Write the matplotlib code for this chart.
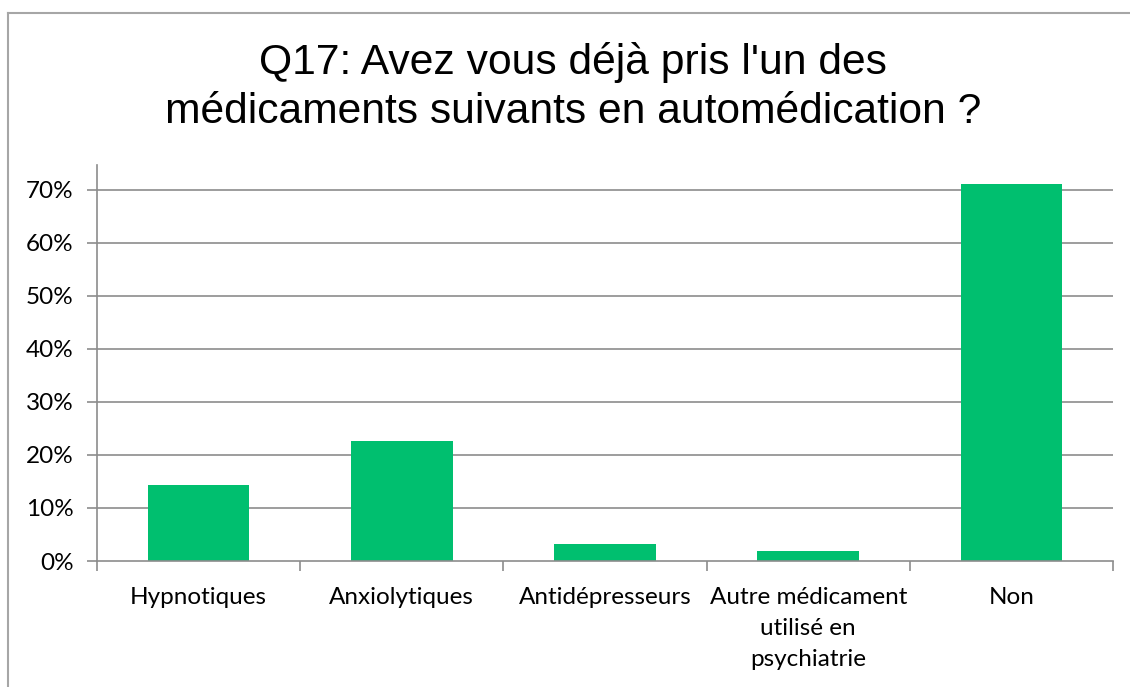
import matplotlib
matplotlib.use("Agg")
import matplotlib.pyplot as plt
from matplotlib.lines import Line2D
from matplotlib.ticker import FuncFormatter

categories = ["Hypnotiques", "Anxiolytiques", "Antidépresseurs",
              "Autre médicament\nutilisé en\npsychiatrie", "Non"]
values = [0.143, 0.226, 0.033, 0.019, 0.711]
yticks = [0.0, 0.1, 0.2, 0.3, 0.4, 0.5, 0.6, 0.7]
title = "Q17: Avez vous déjà pris l'un des\nmédicaments suivants en automédication ?"

W, H = 1130, 687
fig = plt.figure(figsize=(W / 100, H / 100), dpi=100)
fig.patch.set_facecolor("white")

left, right, bottom, top = 97, 1113, 561, 165
ax = fig.add_axes([left / W, 1 - bottom / H, (right - left) / W, (bottom - top) / H])

x = list(range(len(categories)))
ax.bar(x, values, width=0.5, color="#00BF6F", zorder=3)
ax.set_xlim(-0.5, len(categories) - 0.5)
ax.set_ylim(0, 0.747)

grid_c = "#8c8c8c"
ax.set_yticks(yticks)
ax.yaxis.set_major_formatter(FuncFormatter(lambda v, p: f"{v*100:.0f}%"))
for yv in yticks[1:]:
    ax.axhline(yv, color=grid_c, lw=1.2, zorder=1)

ax.set_xticks([i - 0.5 for i in range(len(categories) + 1)])
ax.set_xticklabels([])
ax.set_xticks(x, minor=True)
ax.set_xticklabels(categories, minor=True)

lab_font = ["Lato", "DejaVu Sans"]
ax.tick_params(axis="x", which="major", direction="out", length=7, width=1.2, color=grid_c)
ax.tick_params(axis="x", which="minor", length=0, pad=19, labelsize=17.5, labelcolor="#000000")
ax.tick_params(axis="y", direction="out", length=7, width=1.2, color=grid_c, pad=10,
               labelsize=17.5, labelcolor="#000000")
for lab in ax.get_xticklabels(minor=True):
    lab.set_fontfamily(lab_font)
    lab.set_linespacing(1.58)
for lab in ax.get_yticklabels():
    lab.set_fontfamily(lab_font)

for s in ["top", "right"]:
    ax.spines[s].set_visible(False)
for s in ["left", "bottom"]:
    ax.spines[s].set_color(grid_c)
    ax.spines[s].set_linewidth(1.2)
    ax.spines[s].set_zorder(4)

fig.text(573 / W, 1 - 87 / H, title, ha="center", va="center", fontsize=30.7,
         family=["Liberation Sans", "DejaVu Sans"], linespacing=1.3)

bc = "#a6a6a6"
fig.add_artist(Line2D([8 / W, 8 / W], [0, 1 - 13 / H], transform=fig.transFigure, color=bc, lw=1.5))
fig.add_artist(Line2D([8 / W, 1], [1 - 13 / H, 1 - 13 / H], transform=fig.transFigure, color=bc, lw=1.5))

fig.savefig("out.png", dpi=100, facecolor="white")
